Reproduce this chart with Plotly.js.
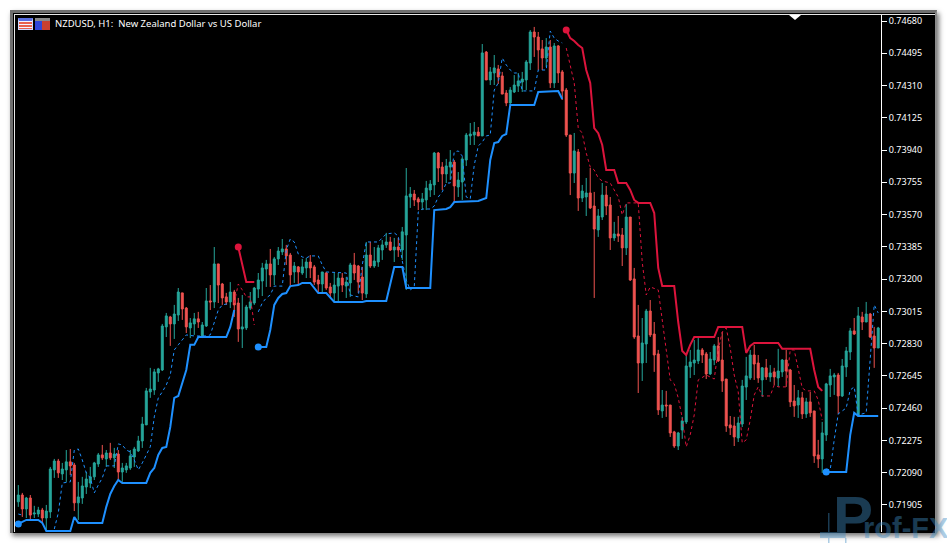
<!DOCTYPE html>
<html>
<head>
<meta charset="utf-8">
<script src="https://cdn.plot.ly/plotly-3.0.1.min.js"></script>
<style>
html,body{margin:0;padding:0;background:#fff;width:947px;height:543px;overflow:hidden}
#frame{position:absolute;left:10px;top:10px;width:927px;height:523px;background:#000;box-sizing:border-box;border-top:3px solid #6f6f6f;border-left:3px solid #6f6f6f;border-right:2px solid #8a8a8a;box-shadow:2px 3px 5px rgba(0,0,0,.55)}
#edge{position:absolute;left:14px;top:14px;width:921px;height:1px;background:#e8e8e8}
#edgeL{position:absolute;left:14px;top:14px;width:1px;height:518px;background:#e8e8e8}
#chart{position:absolute;left:0;top:0;width:947px;height:543px}
#tri{position:absolute;left:789px;top:15px;width:0;height:0;border-left:6px solid transparent;border-right:6px solid transparent;border-top:5px solid #fff}
.ic{position:absolute;top:18px;width:15px;height:12px;box-sizing:border-box}
#ic1{left:18px;border:1px solid #cfd8ff;border-top:3px solid #5a6fe0;background:repeating-linear-gradient(180deg,#f4f4ff 0,#f4f4ff 1px,#e8604c 1px,#e8604c 3px)}
#ic2{left:35px;background:linear-gradient(180deg,#8a8a8a 0,#8a8a8a 25%,transparent 25%),linear-gradient(90deg,#2f46d8 0,#2f46d8 50%,#c8402f 50%,#c8402f 100%)}
#wm{position:absolute;left:0;top:0;width:947px;height:543px;pointer-events:none;overflow:hidden}
#wm svg{position:absolute;left:0;top:0}
</style>
</head>
<body>
<div id="frame"></div><div id="edge"></div><div id="edgeL"></div>
<div id="chart"></div>
<div id="tri"></div>
<div class="ic" id="ic1"></div><div class="ic" id="ic2"></div>
<div id="wm"><svg width="947" height="543">
<g fill="#3f8cc4" opacity="0.42">
<rect x="820" y="532" width="17" height="6"></rect>
<rect x="828" y="513" width="1.5" height="30"></rect>
<rect x="845" y="538" width="1.5" height="5"></rect>
<text x="833" y="538" font-family="Liberation Sans" font-weight="700" font-size="60">P<tspan dx="-10" font-size="29">rof-FX</tspan></text>
</g></svg></div>
<script>
const priceTicks = ["0.74680","0.74495","0.74310","0.74125","0.73940","0.73755","0.73570","0.73385","0.73200","0.73015","0.72830","0.72645","0.72460","0.72275","0.72090","0.71905"];
const chartTitle = "NZDUSD, H1:  New Zealand Dollar vs US Dollar";

// candle values in points (1 point = 0.00001)
const bodyTop = [71962,71962,71945,71945,71859,71876,71876,71870,72111,72157,
72157,72111,72152,72152,72134,71951,72014,72054,72066,72146,
72192,72192,72203,72203,72197,72197,72117,72129,72186,72226,
72272,72369,72559,72570,72668,72685,72931,72989,72983,73000,
73126,73121,73034,72949,72972,72972,72937,73075,73075,73287,
73287,73172,73098,73126,73126,73063,72926,73040,73069,73149,
73195,73264,73287,73287,73316,73361,73373,73373,73338,73275,
73270,73270,73298,73298,73270,73195,73241,73235,73155,73166,
73206,73206,73183,73281,73281,73275,73212,73338,73338,73304,
73379,73396,73413,73413,73384,73384,73471,73677,73688,73688,
73660,73660,73722,73745,73923,73923,73843,73849,73871,73871,
73768,73889,74026,74032,74043,74043,74497,74502,74388,74411,
74405,74365,74267,74284,74313,74336,74347,74445,74617,74617,
74588,74520,74531,74531,74537,74537,74388,74284,74026,73935,
73929,73705,73694,73694,73619,73562,73682,73682,73625,73459,
73459,73453,73556,73556,73201,72874,72834,73017,73017,72885,
72771,72478,72478,72478,72324,72318,72387,72702,72725,72736,
72794,72794,72771,72742,72817,72817,72736,72627,72364,72358,
72375,72587,72645,72765,72765,72719,72691,72691,72662,72668,
72673,72736,72736,72679,72501,72519,72519,72496,72496,72444,
72192,72318,72599,72645,72650,72650,72702,72788,72903,72903,
72989,72983,73000,73000,72874,72920];
const bodyBottom = [71923,71882,71882,71847,71853,71853,71830,71830,71865,72106,
72089,72083,72106,72129,71917,71917,71945,72008,72031,72066,
72140,72175,72169,72175,72175,72094,72094,72106,72117,72180,
72215,72272,72364,72553,72564,72662,72679,72926,72943,72943,
72994,73029,72926,72920,72943,72954,72868,72931,73069,73069,
73166,73092,73069,73069,73052,72914,72914,72920,73034,73063,
73143,73189,73258,73224,73224,73316,73356,73333,73224,73241,
73241,73235,73264,73264,73183,73172,73172,73149,73120,73120,
73160,73166,73160,73178,73235,73183,73120,73115,73275,73275,
73298,73367,73396,73367,73367,73367,73367,73453,73671,73654,
73642,73642,73654,73711,73740,73837,73803,73803,73843,73734,
73728,73757,73883,74021,74026,74021,74021,74342,74342,74382,
74359,74261,74210,74210,74273,74307,74330,74342,74439,74588,
74514,74468,74468,74325,74325,74382,74278,74026,73808,73808,
73665,73665,73671,73608,73487,73482,73556,73619,73436,73436,
73447,73379,73379,73195,72868,72719,72719,72828,72880,72765,
72450,72444,72473,72318,72243,72243,72335,72381,72697,72719,
72731,72765,72656,72656,72736,72731,72616,72358,72347,72295,
72289,72369,72581,72633,72713,72633,72622,72639,72639,72639,
72633,72668,72673,72496,72473,72478,72427,72427,72433,72186,
72169,72169,72306,72593,72639,72530,72530,72696,72782,72885,
72421,72954,72954,72868,72805,72805];
const highs = [72019,71974,71951,71962,71900,71894,71888,71905,72123,72169,
72169,72146,72220,72226,72146,72037,72066,72094,72123,72152,
72203,72249,72220,72261,72232,72220,72146,72146,72220,72238,
72301,72410,72576,72691,72685,72691,72943,73006,72989,73052,
73149,73121,73040,72977,73006,73012,72954,73149,73166,73384,
73287,73178,73121,73183,73138,73092,73109,73052,73126,73155,
73235,73293,73310,73373,73327,73384,73430,73396,73350,73298,
73275,73316,73321,73338,73281,73224,73241,73241,73178,73235,
73235,73235,73212,73293,73350,73281,73270,73413,73413,73384,
73396,73424,73465,73442,73436,73436,73499,73837,73728,73711,
73671,73694,73763,73768,73929,73929,73871,73889,73940,73883,
73814,73900,74038,74095,74101,74072,74548,74508,74416,74485,
74428,74388,74284,74301,74370,74382,74388,74456,74628,74646,
74617,74571,74582,74571,74554,74542,74399,74296,74026,74038,
73946,73740,73780,73837,73700,73602,73751,73734,73671,73528,
73562,73493,73631,73556,73264,73052,72977,73029,73080,72954,
72794,72564,72559,72478,72330,72324,72410,72765,72794,72851,
72862,72805,72782,72782,72828,72868,72897,72627,72415,72410,
72410,72622,72754,72794,72823,72765,72696,72742,72707,72691,
72800,72742,72794,72685,72593,72564,72553,72519,72553,72444,
72278,72381,72605,72685,72662,72662,72742,72811,72920,72977,
73040,73012,73069,73006,72926,72926];
const lows = [71894,71836,71830,71824,71830,71836,71807,71762,71830,72060,
72060,72048,72037,72077,71870,71819,71911,71968,72002,72048,
72123,72163,72123,72163,72117,72048,72037,72089,72106,72123,
72209,72232,72364,72519,72536,72611,72673,72868,72817,72857,
72960,72966,72891,72862,72880,72920,72862,72926,73023,73034,
73063,73052,73052,73034,72983,72840,72805,72908,73023,73052,
73092,73103,73155,73155,73166,73281,73338,73281,73166,73178,
73166,73224,73206,73206,73166,73120,73120,73138,73092,73069,
73069,73126,73092,73098,73195,73120,73080,73092,73264,73264,
73270,73310,73379,73361,73298,73327,73310,73138,73608,73619,
73596,73596,73596,73671,73682,73757,73711,73751,73768,73642,
73671,73654,73849,73969,73969,74021,74021,74342,74313,74313,
74319,74261,74192,74198,74267,74273,74273,74284,74399,74474,
74399,74399,74416,74296,74296,74325,74227,74015,73682,73751,
73591,73642,73562,73602,73092,73442,73539,73567,73367,73419,
73413,73275,73338,73189,72857,72547,72616,72719,72868,72668,
72421,72404,72410,72295,72232,72220,72284,72369,72633,72650,
72713,72719,72627,72650,72707,72725,72553,72324,72306,72243,
72266,72352,72507,72622,72622,72605,72524,72622,72611,72593,
72582,72639,72582,72467,72410,72404,72398,72404,72410,72146,
72117,72089,72272,72524,72536,72427,72524,72639,72736,72880,
72410,72908,72954,72862,72691,72805];
const direction = "grgrggrggg"+"rggrrggggg"+"grgrgrgggg"+"ggggggggrg"+"grrggrggrg"+"rrrgrrgggg"+"gggrgggrrg"+"rggrrrgrrg"+"grggrrrgrg"+"gggrgrgggr"+"rggggrrggr"+"gggggrgrgg"+"rrrggggggr"+"rrgrgrrrrg"+"rggrrggrrg"+"rrgrrrggrr"+"rgrrrggggg"+"grrggrrrrr"+"ggggrrgrgr"+"ggrrrgrgrr"+"rggggrgggr"+"grgrrg";

// solid trailing-stop line: bar numbers and values
const stopUpABars = [0,1,2,5,6,7,13,14,15,21,22,23,24,25,26,32,33,34,35,36,37,38,39,40,41,42,43,44,45,52,53,54];
const stopUpAVals = [71796,71807,71819,71819,71802,71756,71756,71836,71802,71802,71894,71968,72014,72048,72031,72031,72089,72117,72192,72232,72238,72352,72519,72530,72605,72679,72823,72823,72868,72868,72926,73023];
const stopDownABars = [55,56,57,59];
const stopDownAVals = [73384,73281,73183,73183];
const stopUpBBars = [60,62,63,64,65,66,67,68,70,71,73,74,75,77,78,79,86,87,92,93,94,96,97,103,104,107,108,109,115,117,118,119,120,121,122,123,129,130,135,136];
const stopUpBVals = [72811,72811,72908,73052,73092,73115,73120,73160,73166,73178,73178,73149,73120,73120,73092,73069,73069,73075,73075,73166,73270,73270,73149,73149,73596,73602,73613,73642,73648,73665,73883,73980,73986,74021,74032,74198,74198,74273,74279,74233];
const stopDownBBars = [137,138,139,140,141,142,143,144,145,146,147,149,150,152,153,154,155,158,159,160,161,164,165,166,167,168,169,174,175,181,182,183,184,190,191,198,199,200,201];
const stopDownBVals = [74628,74582,74565,74542,74525,74399,74325,74066,74037,73969,73826,73826,73751,73751,73711,73654,73637,73637,73579,73264,73160,73160,72954,72788,72765,72823,72868,72868,72926,72926,72777,72817,72834,72834,72800,72800,72679,72582,72559];
const stopUpCBars = [202,207,208,209,210,215];
const stopUpCVals = [72094,72094,72306,72433,72415,72415];

// thin dashed line: bar numbers and values
const dashUp0Bars = [0,1];
const dashUp0Vals = [71853,71847];
const dashUpABars = [9,10,11,13,14,15,16,17,18,19,20,21,22,24,25,26,27,28,29,30,31,32,33,34,35,36,37,38,39,40,41,42,44,47,48,49,50,51,52,53];
const dashUpAVals = [71767,71859,72031,72037,72220,72226,72163,72089,72060,71974,72019,72060,72129,72129,72255,72249,72220,72209,72163,72106,72146,72192,72238,72410,72519,72553,72593,72650,72794,72823,72851,72880,72874,72874,72880,72949,73023,73052,73057,73057];
const dashDownABars = [54,55,56,57,58,59];
const dashDownAVals = [73063,73172,73138,73098,73098,72937];
const dashUpBBars = [60,61,62,63,64,66,67,68,69,70,71,72,73,75,76,77,82,83,85,86,87,90,91,92,94,95,96,97,98,99,100,101,103,104,105,106,107,108,109,110,111,112,113,114,115,116,117,118,119,120,121,122,123,124,125,126,127,129,130,132,133,134,135,136];
const dashUpBVals = [73012,73063,73092,73109,73160,73160,73367,73430,73413,73344,73327,73321,73333,73333,73281,73241,73235,73109,73098,73281,73413,73413,73436,73459,73465,73447,73304,73195,73138,73155,73585,73602,73602,73619,73671,73700,73751,73751,73929,73935,73906,73671,73660,73854,73963,73986,74021,74026,74284,74325,74468,74428,74399,74382,74382,74279,74279,74279,74399,74399,74622,74582,74565,74554];
const dashDownBBars = [137,138,139,140,141,142,143,144,145,146,148,149,150,151,152,155,156,157,158,160,161,162,163,164,165,166,167,168,169,170,172,174,175,176,177,178,179,180,181,182,183,184,185,186,188,189,190,192,193,194,195,196,197,199,200,201];
const dashDownBVals = [74525,74416,74325,74066,74037,73923,73843,73826,73780,73763,73751,73711,73671,73568,73637,73637,73298,73109,73155,73138,72966,72765,72622,72599,72519,72404,72238,72306,72421,72622,72650,72627,72794,72897,72920,72805,72650,72553,72261,72278,72392,72536,72582,72530,72530,72593,72582,72582,72794,72794,72691,72576,72559,72559,72507,72392];
const dashUpCBars = [202,203,204,205,207,208,209,210,212,213,214,215];
const dashUpCVals = [72111,72106,72278,72427,72461,72564,72582,72421,72433,72748,73052,73006];

const BLUE = "#1E90FF", RED = "#DC143C", UPC = "#26A69A", DNC = "#EF5350";
const toPrice = a => a.map(v => v / 100000);
const bars = bodyTop.map((_, i) => i);
const opens = bars.map(i => direction[i] === "g" ? bodyBottom[i] : bodyTop[i]);
const closes = bars.map(i => direction[i] === "g" ? bodyTop[i] : bodyBottom[i]);

const traces = [{
  type: "candlestick", x: bars,
  open: toPrice(opens), high: toPrice(highs), low: toPrice(lows), close: toPrice(closes),
  increasing: {line: {color: UPC, width: 1}, fillcolor: UPC},
  decreasing: {line: {color: DNC, width: 1}, fillcolor: DNC},
  whiskerwidth: 0, hoverinfo: "skip", showlegend: false
}];
function solid(b, v, c) {
  traces.push({type: "scatter", mode: "lines", x: b, y: toPrice(v), line: {color: c, width: 2}, hoverinfo: "skip", showlegend: false});
  traces.push({type: "scatter", mode: "markers", x: [b[0]], y: toPrice([v[0]]), marker: {color: c, size: 7}, hoverinfo: "skip", showlegend: false});
}
function dashed(b, v, c) {
  traces.push({type: "scatter", mode: "lines", x: b, y: toPrice(v), line: {color: c, width: 1, dash: "3px,3px"}, hoverinfo: "skip", showlegend: false});
}
dashed(dashUp0Bars, dashUp0Vals, BLUE);
dashed(dashUpABars, dashUpAVals, BLUE);
dashed(dashDownABars, dashDownAVals, RED);
dashed(dashUpBBars, dashUpBVals, BLUE);
dashed(dashDownBBars, dashDownBVals, RED);
dashed(dashUpCBars, dashUpCVals, BLUE);
solid(stopUpABars, stopUpAVals, BLUE);
solid(stopDownABars, stopDownAVals, RED);
solid(stopUpBBars, stopUpBVals, BLUE);
solid(stopDownBBars, stopDownBVals, RED);
solid(stopUpCBars, stopUpCVals, BLUE);

const layout = {
  width: 947, height: 543,
  margin: {l: 15, r: 66, t: 15, b: 11, pad: 0},
  paper_bgcolor: "rgba(0,0,0,0)", plot_bgcolor: "#000",
  showlegend: false, hovermode: false, boxgap: 0.3,
  title: {text: chartTitle, x: 55/947, xanchor: "left", y: 1-24/543, yanchor: "middle", font: {family: "Noto Sans, DejaVu Sans", size: 9.5, color: "#fff"}},
  xaxis: {range: [-0.825, 215.7], visible: false, showgrid: false, zeroline: false, rangeslider: {visible: false}, fixedrange: true},
  yaxis: {range: [0.717499, 0.747144], side: "right", showgrid: false, zeroline: false,
    tickmode: "array", tickvals: priceTicks.map(Number), ticktext: priceTicks,
    ticks: "outside", ticklen: 5, tickwidth: 1, tickcolor: "#fff", showline: true, linecolor: "#fff", linewidth: 1,
    tickfont: {family: "Noto Sans, Open Sans", size: 9, color: "#fff"}, fixedrange: true}
};
Plotly.newPlot("chart", traces, layout, {displayModeBar: false, staticPlot: true});
</script>
</body>
</html>
